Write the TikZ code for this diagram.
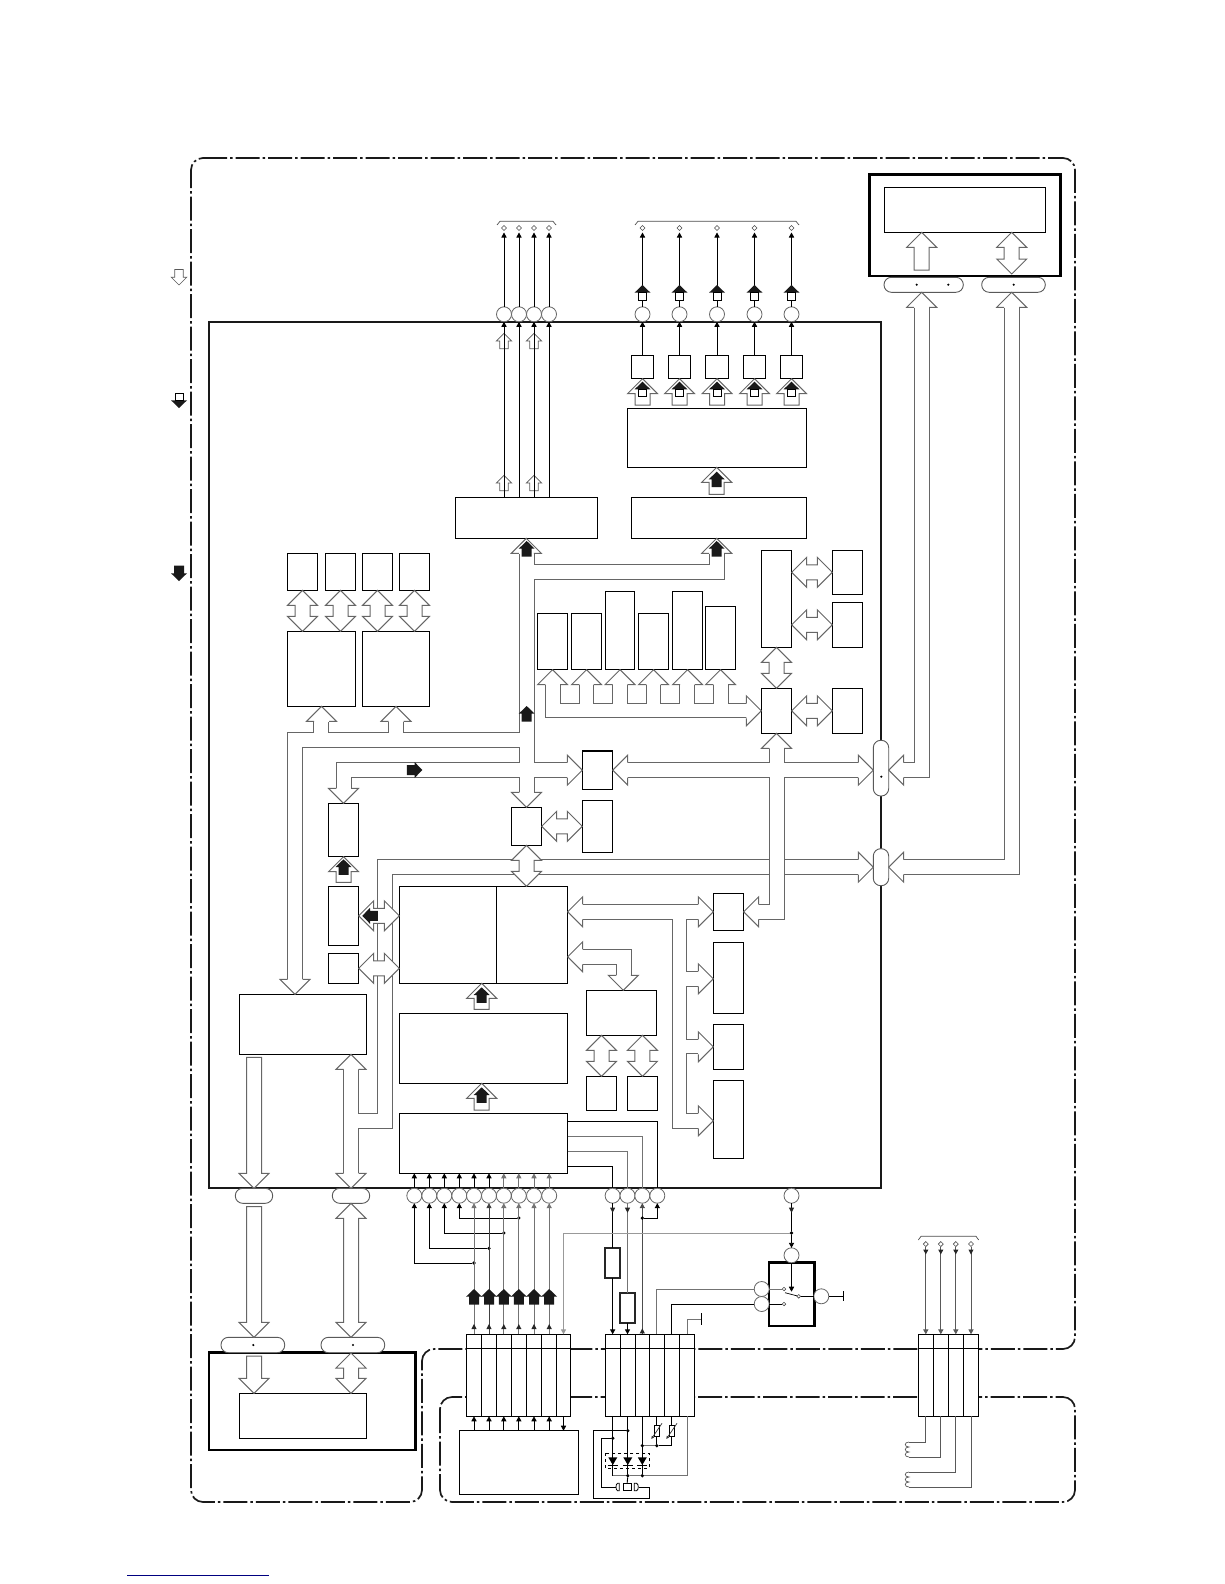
\documentclass[tikz,border=0pt]{standalone}
\usepackage{xcolor}
\usepackage{tikz}
\usetikzlibrary{shapes,arrows,positioning,calc,fit,arrows.meta}
\newcommand{\bussgl}[2]{%
  \coordinate (tl) at #1; \coordinate (tp) at #2;
  \coordinate (bs) at ($(tp)!15pt!(tl)$);
  \draw[busline,fill=white] ($(tl)!7.5pt!90:(tp)$) -- ($(bs)!7.5pt!90:(tp)$) -- ($(bs)!15pt!90:(tp)$) -- (tp)
    -- ($(bs)!15pt!-90:(tp)$) -- ($(bs)!7.5pt!-90:(tp)$) -- ($(tl)!7.5pt!-90:(tp)$) -- cycle;}
\newcommand{\busdbl}[2]{%
  \coordinate (tl) at #1; \coordinate (tp) at #2;
  \coordinate (bs) at ($(tp)!15pt!(tl)$); \coordinate (bt) at ($(tl)!15pt!(tp)$);
  \draw[busline,fill=white] (tl) -- ($(bt)!15pt!90:(tp)$) -- ($(bt)!7.5pt!90:(tp)$) -- ($(bs)!7.5pt!90:(tp)$) -- ($(bs)!15pt!90:(tp)$) -- (tp)
    -- ($(bs)!15pt!-90:(tp)$) -- ($(bs)!7.5pt!-90:(tp)$) -- ($(bt)!7.5pt!-90:(tp)$) -- ($(bt)!15pt!-90:(tp)$) -- cycle;}
\newcommand{\bushead}[2]{%
  \fill[white,shift={#1},rotate=#2] (0,0) -- (15,15) -- (-15,15) -- cycle;
  \draw[busline,shift={#1},rotate=#2] (7.5,15) -- (15,15) -- (0,0) -- (-15,15) -- (-7.5,15);}
\newcommand{\blackup}[2]{%
  \fill[black!90,shift={#1},rotate=#2] (0,0) -- (8,7.7) -- (5,7.7) -- (5,15.5) -- (-5,15.5) -- (-5,7.7) -- (-8,7.7) -- cycle;}
\newcommand{\blackhat}[2]{%
  \fill[black!90,shift={#1},rotate=#2] (0,0) -- (8,7.7) -- (-8,7.7) -- cycle;
  \draw[black,line width=0.8pt,fill=white,shift={#1},rotate=#2] (-4,7.7) rectangle (4,15);}
\newcommand{\smallup}[2]{%
  \draw[black!65,line width=0.7pt,shift={#1},rotate=#2] (0,0) -- (7.7,7.7) -- (4.3,7.7) -- (4.3,15.5) -- (-4.3,15.5) -- (-4.3,7.7) -- (-7.7,7.7) -- cycle;}
\newcommand{\pintip}[2]{%
  \fill[black!85,shift={#1},rotate=#2] (0,0) -- (2.6,5) -- (-2.6,5) -- cycle;}
\newcommand{\diode}[1]{%
  \fill[black,shift={#1}] (-4.5,0) -- (4.5,0) -- (0,7.7) -- cycle;
  \draw[black,line width=0.9pt,shift={#1}] (-5,7.7) -- (5,7.7);}
\newcommand{\coil}[1]{%
  \draw[black!65,line width=0.7pt,shift={#1}] (0,0) .. controls (-5,0) and (-5,5) .. (0,5) .. controls (-5,5) and (-5,10) .. (0,10) .. controls (-5,10) and (-5,15) .. (0,15);}

\begin{document}
\begin{tikzpicture}[x=1pt,y=-1pt,
  blk/.style={draw=black,line width=1.1pt,fill=white,inner sep=0pt,outer sep=0pt},
  thickblk/.style={draw=black,line width=2.8pt,inner sep=0pt,outer sep=0pt},
  fuseblk/.style={draw=black!85,line width=2.2pt,fill=white,inner sep=0pt,outer sep=0pt},
  pill/.style={draw=black!65,line width=0.9pt,fill=white,rounded corners=7.4pt,inner sep=0pt,outer sep=0pt},
  pin/.style={circle,draw=black!60,line width=0.8pt,fill=white,minimum size=15pt,inner sep=0pt,outer sep=0pt},
  term/.style={diamond,draw=black!70,line width=0.6pt,fill=white,minimum size=5pt,inner sep=0pt,outer sep=0pt},
  contact/.style={circle,draw=black!70,line width=0.6pt,fill=white,minimum size=3.6pt,inner sep=0pt,outer sep=0pt},
  jct/.style={circle,fill=black,minimum size=3.6pt,inner sep=0pt,outer sep=0pt},
  bdot/.style={circle,fill=black,minimum size=2.4pt,inner sep=0pt,outer sep=0pt},
  busline/.style={draw=black!60,line width=1pt},
  bracket/.style={black!70,line width=0.7pt},
  frameline/.style={black!90,line width=1.7pt,rounded corners=12pt,dash pattern=on 24pt off 3pt on 2.5pt off 3pt},
  wire/.style={black,line width=0.9pt},
  wiregray/.style={black!55,line width=0.9pt},
  sig/.style={wire,-{Triangle[length=5pt,width=5.2pt]}},
  siggray/.style={wiregray,-{Triangle[length=5pt,width=5.2pt]}}]
\useasboundingbox (0,0) rectangle (1224,1584);

% Outer frames
\draw[frameline] (191,158) -- (1075,158) -- (1075,1349) -- (422,1349) -- (422,1502) -- (191,1502) -- cycle;
\draw[frameline] (440,1397) rectangle (1075,1502);
\draw[black!90,line width=2.2pt] (209,322) rectangle (881,1188);

% Legend
\smallup{(179,285)}{180}
\blackhat{(179,408)}{180}
\blackup{(179,581)}{180}
\draw[blue!50!black,line width=1.2pt] (127,1575.3) -- (269,1575.3);

% Display module, top right
\node[thickblk,fit={(869.7,174.7) (1060.3,276)}] (dispFrame) {};
\node[blk,fit={(884.3,187.3) (1045.7,232.3)}] (disp) {};
\node[pill,fit={(884,277.3) (963.3,292.3)}] (conA) {};
\node[pill,fit={(981.7,277.3) (1045.3,292.3)}] (conB) {};
\node[bdot] (conAdotL) at (916.7,284.7) {};
\node[bdot] (conAdotR) at (948.3,284.7) {};
\node[bdot] (conBdot) at (1013.7,284.7) {};

% Recorder module, bottom left
\node[thickblk,fit={(209,1352.7) (415.3,1450)}] (recFrame) {};
\node[blk,fit={(239.3,1393.3) (366.7,1438.3)}] (rec) {};
\node[pill,fit={(221,1337.3) (284.7,1352.7)}] (conG) {};
\node[pill,fit={(321,1337.3) (384.7,1352.7)}] (conH) {};
\node[bdot] (conGdot) at (253.3,1345) {};
\node[bdot] (conHdot) at (353,1345) {};

% Pills on the main board edge
\node[pill,fit={(873.3,740.3) (888.7,796)}] (conC) {};
\node[pill,fit={(873.3,848.7) (888.7,885.7)}] (conD) {};
\node[pill,fit={(235.3,1188.3) (272.7,1203.3)}] (conE) {};
\node[pill,fit={(332.3,1188.3) (369.7,1203.3)}] (conF) {};
\node[bdot] (conCdot) at (881.3,776.7) {};

% Blocks, top of board
\node[blk,fit={(455.3,497.3) (597.3,538.3)}] (enc) {};
\node[blk,fit={(631.3,497.3) (806.7,538.3)}] (scal) {};
\node[blk,fit={(627.3,408.3) (806.7,467.3)}] (dac) {};
\node[blk,fit={(631.3,355.3) (653.7,378.7)}] (drvA) {};
\node[blk,fit={(668.3,355.3) (690.7,378.7)}] (drvB) {};
\node[blk,fit={(705.3,355.3) (728.7,378.7)}] (drvC) {};
\node[blk,fit={(743.3,355.3) (765.7,378.7)}] (drvD) {};
\node[blk,fit={(780.3,355.3) (802.7,378.7)}] (drvE) {};

% Memories, left
\node[blk,fit={(287.3,553.3) (317.7,590.3)}] (chipA) {};
\node[blk,fit={(325.3,553.3) (355.7,590.3)}] (chipB) {};
\node[blk,fit={(362.3,553.3) (392.7,590.3)}] (chipC) {};
\node[blk,fit={(399.3,553.3) (429.7,590.3)}] (chipD) {};
\node[blk,fit={(287.3,631.3) (355.7,706.3)}] (memA) {};
\node[blk,fit={(362.3,631.3) (429.7,706.3)}] (memB) {};

% Row of six and the right column
\node[blk,fit={(537.3,613.3) (567.7,669.7)}] (rowA) {};
\node[blk,fit={(571.3,613.3) (601.7,669.7)}] (rowB) {};
\node[blk,fit={(605.3,591.3) (634.7,669.7)}] (rowC) {};
\node[blk,fit={(638.3,613.3) (668.7,669.7)}] (rowD) {};
\node[blk,fit={(672.3,591.3) (702.7,669.7)}] (rowE) {};
\node[blk,fit={(705.3,606.3) (735.7,669.7)}] (rowF) {};
\node[blk,fit={(761.3,550.3) (791.7,647.3)}] (tall) {};
\node[blk,fit={(761.3,688.3) (791.7,733.3)}] (hubB) {};
\node[blk,fit={(832.3,550.3) (862.7,594.3)}] (sideA) {};
\node[blk,fit={(832.3,602.3) (862.7,647.3)}] (sideB) {};
\node[blk,fit={(832.3,688.3) (862.7,733.3)}] (sideC) {};

% Middle of board
\node[blk,fit={(582.3,751) (612.7,789.3)}] (ctl) {};
\node[blk,fit={(582.3,800.3) (612.7,852.7)}] (stor) {};
\node[blk,fit={(511.3,807.3) (541.7,845.3)}] (hub) {};
\node[blk,fit={(328.3,803.3) (358.7,856.7)}] (bufA) {};
\node[blk,fit={(328.3,886.3) (358.7,945.3)}] (bufB) {};
\node[blk,fit={(328.3,953.3) (358.7,983.3)}] (bufC) {};
\node[blk,fit={(399.3,886.3) (496.3,983.3)}] (ramA) {};
\node[blk,fit={(496.3,886.3) (567.7,983.3)}] (ramB) {};
\node[blk,fit={(399.3,1013.3) (567.7,1083.3)}] (proc) {};
\node[blk,fit={(399.3,1113.3) (567.7,1173.3)}] (inpt) {};
\node[blk,fit={(239.3,994.3) (366.3,1054.3)}] (dsp) {};
\node[blk,fit={(713.3,893.3) (743.7,930.3)}] (regA) {};
\node[blk,fit={(713.3,942.3) (743.7,1013.3)}] (regB) {};
\node[blk,fit={(713.3,1024.3) (743.7,1069.3)}] (regC) {};
\node[blk,fit={(713.3,1080.3) (743.7,1158.3)}] (regD) {};
\node[blk,fit={(586.3,990.3) (656.7,1035.3)}] (flash) {};
\node[blk,fit={(586.3,1076.3) (616.7,1110.3)}] (flashA) {};
\node[blk,fit={(627.3,1076.3) (657.7,1110.3)}] (flashB) {};

% Bus outlines, left and top
\draw[busline] (519,553.7) -- (519,732.7) -- (287.3,732.7) -- (287.3,979.3);
\draw[busline] (313.7,732.7) -- (313.7,721.7);
\draw[busline] (328.3,732.7) -- (328.3,721.7);
\draw[busline] (388.3,732.7) -- (388.3,721.7);
\draw[busline] (403.3,732.7) -- (403.3,721.7);
\fill[white] (314.2,732.2) rectangle (327.8,733.2);
\fill[white] (388.8,732.2) rectangle (402.8,733.2);
\draw[busline] (302.3,979.3) -- (302.3,747.3) -- (519,747.3) -- (519,762.3) -- (336.7,762.3) -- (336.7,789);
\draw[busline] (351.3,789) -- (351.3,777.3) -- (519,777.3) -- (519,792.7);
\draw[busline] (534,553.7) -- (534,564.3) -- (709.3,564.3) -- (709.3,553.7);
\draw[busline] (724.3,553.7) -- (724.3,579.3) -- (534,579.3) -- (534,762.7) -- (567.3,762.7);
\draw[busline] (567.3,777.3) -- (534,777.3) -- (534,792.7);
% Bus outlines, right
\draw[busline] (627.7,762.7) -- (769.3,762.7) -- (769.3,747.3);
\draw[busline] (784,747.3) -- (784,762.7) -- (858.3,762.7);
\draw[busline] (627.7,777.3) -- (769.3,777.3) -- (769.3,904.3) -- (757.7,904.3);
\draw[busline] (858.3,777.3) -- (784,777.3) -- (784,919.3) -- (757.7,919.3);
\draw[busline] (903.3,762.7) -- (914.7,762.7) -- (914.7,307.7);
\draw[busline] (903.3,777.3) -- (929.3,777.3) -- (929.3,307.7);
\draw[busline] (903.3,859.3) -- (1004.3,859.3) -- (1004.3,307.7);
\draw[busline] (903.3,874.3) -- (1019.3,874.3) -- (1019.3,307.7);
% Long shared bus
\draw[busline] (358.7,1069) -- (358.7,1113.3) -- (377.3,1113.3) -- (377.3,859.3) -- (769.3,859.3);
\draw[busline] (784,859.3) -- (858.3,859.3);
\draw[busline] (358.7,1173.3) -- (358.7,1128.3) -- (392.3,1128.3) -- (392.3,874.3) -- (769.3,874.3);
\draw[busline] (784,874.3) -- (858.3,874.3);
\draw[busline] (343.7,1069) -- (343.7,1173.3);
% Register bus
\draw[busline] (582.7,904.3) -- (698.3,904.3);
\draw[busline] (582.7,919.3) -- (672,919.3) -- (672,1128.3) -- (698.3,1128.3);
\draw[busline] (698.3,919.3) -- (686.7,919.3) -- (686.7,971.3) -- (698.3,971.3);
\draw[busline] (698.3,986.3) -- (686.7,986.3) -- (686.7,1039) -- (698.3,1039);
\draw[busline] (698.3,1053.7) -- (686.7,1053.7) -- (686.7,1113.3) -- (698.3,1113.3);
\draw[busline] (582.7,949.3) -- (631,949.3) -- (631,975.7);
\draw[busline] (582.7,964.3) -- (616,964.3) -- (616,975.7);
% Row bus
\draw[busline] (545,684.3) -- (545,717.7) -- (747,717.7);
\draw[busline] (560.3,684.3) -- (560.3,703) -- (579,703) -- (579,684.3);
\draw[busline] (593.7,684.3) -- (593.7,703) -- (612.3,703) -- (612.3,684.3);
\draw[busline] (627,684.3) -- (627,703) -- (646,703) -- (646,684.3);
\draw[busline] (660.7,684.3) -- (660.7,703) -- (679.3,703) -- (679.3,684.3);
\draw[busline] (694.7,684.3) -- (694.7,703) -- (713.3,703) -- (713.3,684.3);
\draw[busline] (728,684.3) -- (728,703) -- (747,703);

% Bus arrow heads
\bushead{(memA.south)}{0}
\bushead{(memB.south)}{0}
\bushead{(295,0 |- dsp.north)}{180}
\bushead{(bufA.north)}{180}
\bushead{(hub.north)}{180}
\bushead{(enc.south)}{0}
\bushead{(716.7,0 |- scal.south)}{0}
\bushead{(ctl.west)}{-90}
\bushead{(ctl.east)}{90}
\bushead{(hubB.south)}{0}
\bushead{(hubB.west)}{-90}
\bushead{(rowA.south)}{0}
\bushead{(rowB.south)}{0}
\bushead{(rowC.south)}{0}
\bushead{(rowD.south)}{0}
\bushead{(rowE.south)}{0}
\bushead{(rowF.south)}{0}
\bushead{(conC.west |- ctl.east)}{-90}
\bushead{(conC.east |- ctl.east)}{90}
\bushead{(conD.west)}{-90}
\bushead{(conD.east)}{90}
\bushead{(921.7,0 |- conA.south)}{0}
\bushead{(1011.7,0 |- conB.south)}{0}
\bushead{(351,0 |- dsp.south)}{0}
\bushead{(conF.north)}{180}
\bushead{(ramB.east |- regA.west)}{90}
\bushead{(ramB.east |- 0,956.8)}{90}
\bushead{(623.3,0 |- flash.north)}{180}
\bushead{(regA.west)}{-90}
\bushead{(regA.east)}{90}
\bushead{(regB.west |- 0,978.8)}{-90}
\bushead{(regC.west)}{-90}
\bushead{(regD.west |- 0,1120.8)}{-90}

% Straight bus arrows
\busdbl{(chipA.south)}{(chipA.south |- memA.north)}
\busdbl{(chipB.south)}{(chipB.south |- memA.north)}
\busdbl{(chipC.south)}{(chipC.south |- memB.north)}
\busdbl{(chipD.south)}{(chipD.south |- memB.north)}
\busdbl{(tall.south)}{(hubB.north)}
\busdbl{(tall.east |- sideA.west)}{(sideA.west)}
\busdbl{(tall.east |- sideB.west)}{(sideB.west)}
\busdbl{(hubB.east)}{(sideC.west)}
\busdbl{(hub.east)}{(hub.east -| stor.west)}
\busdbl{(hub.south)}{(hub.south |- ramB.north)}
\busdbl{(bufB.east)}{(bufB.east -| ramA.west)}
\busdbl{(bufC.east)}{(bufC.east -| ramA.west)}
\busdbl{(601.5,0 |- flash.south)}{(flashA.north)}
\busdbl{(642.4,0 |- flash.south)}{(flashB.north)}
\bussgl{(bufA.south |- 0,882.3)}{(bufA.south)}
\bussgl{(481.7,1009.3)}{(481.7,0 |- ramA.south)}
\bussgl{(481.7,1110)}{(481.7,0 |- proc.south)}
\bussgl{(716.7,494.3)}{(716.7,0 |- dac.south)}
\bussgl{(254,1057.3)}{(conE.north)}
\bussgl{(254,1206.7)}{(254,0 |- conG.north)}
\busdbl{(conF.south)}{(351,0 |- conH.north)}
\bussgl{(254,1356)}{(254,0 |- rec.north)}
\busdbl{(351,1353)}{(351,0 |- rec.north)}
\bussgl{(921.7,270)}{(921.7,0 |- disp.south)}
\busdbl{(1011.7,274)}{(1011.7,0 |- disp.south)}

% Black markers on the buses
\blackup{(526.7,541)}{0}
\blackup{(716.7,541)}{0}
\blackup{(526.7,706)}{0}
\blackup{(422.3,770)}{-90}
\blackup{(343.5,859.3)}{0}
\blackup{(362.3,915.8)}{90}
\blackup{(481.7,987.3)}{0}
\blackup{(481.7,1087.3)}{0}
\blackup{(716.7,471.7)}{0}

% Video outputs, four pins
\node[pin] (vidA) at (504,314.3) {};
\node[pin] (vidB) at (519,314.3) {};
\node[pin] (vidC) at (534,314.3) {};
\node[pin] (vidD) at (549,314.3) {};
\node[term] (vidAout) at (504,228) {};
\node[term] (vidBout) at (519,228) {};
\node[term] (vidCout) at (534,228) {};
\node[term] (vidDout) at (549,228) {};
\smallup{(504,333.3)}{0}
\smallup{(534,333.3)}{0}
\smallup{(504,475.3)}{0}
\smallup{(534,475.3)}{0}
\draw[sig] (vidA |- enc.north) -- (vidA.south);
\draw[sig] (vidB |- enc.north) -- (vidB.south);
\draw[sig] (vidC |- enc.north) -- (vidC.south);
\draw[sig] (vidD |- enc.north) -- (vidD.south);
\draw[sig,shorten >=2pt] (vidA.north) -- (vidAout.south);
\draw[sig,shorten >=2pt] (vidB.north) -- (vidBout.south);
\draw[sig,shorten >=2pt] (vidC.north) -- (vidCout.south);
\draw[sig,shorten >=2pt] (vidD.north) -- (vidDout.south);
\draw[bracket] (497,225) -- (500,221.3) -- (553,221.3) -- (556,225);

% Analog outputs, five pins
\node[pin] (outA) at (642.5,314.3) {};
\node[pin] (outB) at (679.5,314.3) {};
\node[pin] (outC) at (717,314.3) {};
\node[pin] (outD) at (754.5,314.3) {};
\node[pin] (outE) at (791.5,314.3) {};
\node[term] (outAend) at (642.5,228) {};
\node[term] (outBend) at (679.5,228) {};
\node[term] (outCend) at (717,228) {};
\node[term] (outDend) at (754.5,228) {};
\node[term] (outEend) at (791.5,228) {};
\draw[sig] (drvA.north) -- (outA.south);
\draw[sig] (drvB.north) -- (outB.south);
\draw[sig] (drvC.north) -- (outC.south);
\draw[sig] (drvD.north) -- (outD.south);
\draw[sig] (drvE.north) -- (outE.south);
\draw[sig,shorten >=2pt] (outA.north) -- (outAend.south);
\draw[sig,shorten >=2pt] (outB.north) -- (outBend.south);
\draw[sig,shorten >=2pt] (outC.north) -- (outCend.south);
\draw[sig,shorten >=2pt] (outD.north) -- (outDend.south);
\draw[sig,shorten >=2pt] (outE.north) -- (outEend.south);
\blackhat{(642.5,285)}{0}
\blackhat{(679.5,285)}{0}
\blackhat{(717,285)}{0}
\blackhat{(754.5,285)}{0}
\blackhat{(791.5,285)}{0}
\bussgl{(642.5,405)}{(drvA.south)}
\bussgl{(679.5,405)}{(drvB.south)}
\bussgl{(717,405)}{(drvC.south)}
\bussgl{(754.5,405)}{(drvD.south)}
\bussgl{(791.5,405)}{(drvE.south)}
\blackhat{(642.5,381.7)}{0}
\blackhat{(679.5,381.7)}{0}
\blackhat{(717,381.7)}{0}
\blackhat{(754.5,381.7)}{0}
\blackhat{(791.5,381.7)}{0}
\draw[bracket] (635,225) -- (638,221.3) -- (796,221.3) -- (799,225);

% Connectors along the lower edge
\node[blk,fit={(466.3,1334.3) (481.7,1416.3)}] (cnA) {};
\node[blk,fit={(481.7,1334.3) (496.3,1416.3)}] (cnB) {};
\node[blk,fit={(496.3,1334.3) (511.3,1416.3)}] (cnC) {};
\node[blk,fit={(511.3,1334.3) (526.3,1416.3)}] (cnD) {};
\node[blk,fit={(526.3,1334.3) (541.7,1416.3)}] (cnE) {};
\node[blk,fit={(541.7,1334.3) (556.7,1416.3)}] (cnF) {};
\node[blk,fit={(556.7,1334.3) (570.3,1416.3)}] (cnG) {};
\node[blk,fit={(605.3,1334.3) (620.3,1416.3)}] (cpA) {};
\node[blk,fit={(620.3,1334.3) (635.3,1416.3)}] (cpB) {};
\node[blk,fit={(635.3,1334.3) (649.3,1416.3)}] (cpC) {};
\node[blk,fit={(649.3,1334.3) (664.3,1416.3)}] (cpD) {};
\node[blk,fit={(664.3,1334.3) (679.3,1416.3)}] (cpE) {};
\node[blk,fit={(679.3,1334.3) (694.7,1416.3)}] (cpF) {};
\node[blk,fit={(918.3,1334.3) (933.3,1416.3)}] (cmA) {};
\node[blk,fit={(933.3,1334.3) (948.3,1416.3)}] (cmB) {};
\node[blk,fit={(948.3,1334.3) (963.3,1416.3)}] (cmC) {};
\node[blk,fit={(963.3,1334.3) (978.7,1416.3)}] (cmD) {};
\draw[wire,line width=1.1pt] (cnA.west |- 0,1348.7) -- (cnG.east |- 0,1348.7);
\draw[wire,line width=1.1pt] (cpA.west |- 0,1348.7) -- (cpF.east |- 0,1348.7);
\draw[wire,line width=1.1pt] (cmA.west |- 0,1348.7) -- (cmD.east |- 0,1348.7);

% Input pins
\node[pin] (pinA) at (414.3,1195.7) {};
\node[pin] (pinB) at (429.3,1195.7) {};
\node[pin] (pinC) at (444.3,1195.7) {};
\node[pin] (pinD) at (459.3,1195.7) {};
\node[pin] (pinE) at (474,1195.7) {};
\node[pin] (pinF) at (489,1195.7) {};
\node[pin] (pinG) at (503.8,1195.7) {};
\node[pin] (pinH) at (518.8,1195.7) {};
\node[pin] (pinI) at (534,1195.7) {};
\node[pin] (pinK) at (549.2,1195.7) {};
\draw[sig] (pinA.north) -- (pinA.north |- inpt.south);
\draw[sig] (pinB.north) -- (pinB.north |- inpt.south);
\draw[sig] (pinC.north) -- (pinC.north |- inpt.south);
\draw[sig] (pinD.north) -- (pinD.north |- inpt.south);
\draw[sig] (pinE.north) -- (pinE.north |- inpt.south);
\draw[sig] (pinF.north) -- (pinF.north |- inpt.south);
\draw[siggray] (pinG.north) -- (pinG.north |- inpt.south);
\draw[siggray] (pinH.north) -- (pinH.north |- inpt.south);
\draw[siggray] (pinI.north) -- (pinI.north |- inpt.south);
\draw[siggray] (pinK.north) -- (pinK.north |- inpt.south);
\node[jct] (jctA) at (474,1263) {};
\node[jct] (jctB) at (489,1248.3) {};
\node[jct] (jctC) at (503.8,1233) {};
\node[jct] (jctD) at (518.8,1218) {};
\draw[sig] (jctA) -| (pinA.south);
\draw[sig] (jctB) -| (pinB.south);
\draw[sig] (jctC) -| (pinC.south);
\draw[sig] (jctD) -| (pinD.south);
\draw[siggray] (cnA.north) -- (pinE.south);
\draw[sig,black!75] (cnB.north) -- (pinF.south);
\draw[siggray] (cnC.north) -- (pinG.south);
\draw[siggray] (cnD.north) -- (pinH.south);
\draw[siggray] (cnE.north) -- (pinI.south);
\draw[siggray] (cnF.north) -- (pinK.south);
\blackup{(474,1289)}{0}
\blackup{(489,1289)}{0}
\blackup{(503.8,1289)}{0}
\blackup{(518.8,1289)}{0}
\blackup{(534,1289)}{0}
\blackup{(549.2,1289)}{0}
\pintip{(474,1324)}{0}
\pintip{(489,1324)}{0}
\pintip{(503.8,1324)}{0}
\pintip{(518.8,1324)}{0}
\pintip{(534,1324)}{0}
\pintip{(549.2,1324)}{0}

% Servo block below first connector
\node[blk,line width=1.1pt,fit={(459.3,1430.7) (578.3,1494.3)}] (srv) {};
\draw[sig] (cnA.south |- srv.north) -- (cnA.south);
\draw[sig] (cnB.south |- srv.north) -- (cnB.south);
\draw[sig] (cnC.south |- srv.north) -- (cnC.south);
\draw[sig] (cnD.south |- srv.north) -- (cnD.south);
\draw[sig] (cnE.south |- srv.north) -- (cnE.south);
\draw[sig] (cnF.south |- srv.north) -- (cnF.south);
\draw[sig] (cnG.south) -- (cnG.south |- srv.north);

% Power pins and fuses
\node[pin] (pwrA) at (612.6,1195.7) {};
\node[pin] (pwrB) at (627.5,1195.7) {};
\node[pin] (pwrC) at (642.3,1195.7) {};
\node[pin] (pwrD) at (657.3,1195.7) {};
\node[pin] (swP) at (791.5,1195.7) {};
\draw[wire] (inpt.east |- 0,1121.7) -| (pwrD.north);
\draw[wiregray] (inpt.east |- 0,1136) -| (pwrC.north);
\draw[wiregray] (inpt.east |- 0,1151) -| (pwrB.north);
\draw[wire] (inpt.east |- 0,1166.3) -| (pwrA.north);
\node[fuseblk,fit={(605,1247.7) (620.3,1278.3)}] (fuseA) {};
\node[fuseblk,fit={(619.7,1293) (635.3,1323.3)}] (fuseB) {};
\draw[wire] (pwrA.south) -- (pwrA.south |- fuseA.north);
\draw[sig] (fuseA.south) -- (fuseA.south |- cpA.north);
\draw[wiregray] (pwrB.south) -- (pwrB.south |- fuseB.north);
\draw[sig] (fuseB.south) -- (fuseB.south |- cpB.north);
\draw[sig,black!70] (pwrC.south |- cpC.north) -- (pwrC.south);
\pintip{(pwrC.south |- 0,1328.3)}{0}
\node[jct] (jctF) at (642.3,1218) {};
\draw[sig] (jctF) -| (pwrD.south);
\pintip{(612.6,1212.7)}{180}
\pintip{(627.5,1212.7)}{180}

% Switch
\node[thickblk,fit={(769,1262.7) (814.7,1326)}] (swBox) {};
\node[pin] (swQ) at (791.5,1255.3) {};
\node[pin] (swL) at (761.7,1289) {};
\node[pin] (swM) at (761.7,1304) {};
\node[pin] (swR) at (821.3,1296.3) {};
\node[jct] (jctE) at (791.5,1233) {};
\coordinate (swT) at (791.5,1291.7);
\node[contact] (ctA) at (784,1289) {};
\node[contact] (ctB) at (784,1304) {};
\node[contact] (ctC) at (798.7,1296.3) {};
\coordinate (gndA) at (843.3,1296.3);
\coordinate (gndB) at (701.3,1319);
\draw[wire] (swP.south) -- (jctE);
\pintip{(791.5,1212.7)}{180}
\draw[sig] (jctE) -- (swQ.north);
\draw[sig] (swQ.south) -- (swT);
\draw[wiregray] (swL.east) -- (ctA);
\draw[wire] (swM.east) -- (ctB);
\draw[wire,line width=0.7pt] (785,1292.7) -- (ctC);
\draw[wire] (ctC) -- (swR.west);
\draw[wire] (swR.east) -- (gndA);
\draw[wire] ([yshift=5pt]gndA) -- ([yshift=-5pt]gndA);
\draw[wiregray] (swL.west) -| (cpD.north);
\draw[wire] (swM.west) -| (cpE.north);
\draw[wiregray] (cpF.north) |- (gndB);
\draw[wire] ([yshift=5.7pt]gndB) -- ([yshift=-5.7pt]gndB);
\draw[siggray,black!40] (jctE) -| (cnG.north);

% LEDs and sensors below second connector
\node[jct] (jctG) at (cpA.south |- 0,1438.3) {};
\node[jct] (jctH) at (cpB.south |- 0,1430.7) {};
\node[jct] (jctI) at (cpC.south |- 0,1445.7) {};
\node[jct] (jctJ) at (cpD.south |- 0,1445.7) {};
\node[jct] (jctK) at (cpB.south |- 0,1475.7) {};
\node[jct] (jctL) at (cpC.south |- 0,1475.7) {};
\node[blk,line width=0.8pt,fit={(623.3,1483.3) (631,1490.7)}] (xtal) {};
\coordinate (xtalL) at (616,1487);
\coordinate (xtalR) at (638.7,1487);
\draw[black,line width=0.8pt,dashed] (605.3,1453.3) rectangle (649.3,1468.3);
\draw[wire] (cpA.south) -- (cpA.south |- jctK);
\draw[wiregray] (cpA.south |- jctK) -- (jctK) -- (jctL) -- (cpF.south |- jctK) -- (cpF.south);
\draw[wire] (cpB.south) -- (jctK);
\draw[wire] (jctK) -- (xtal.north);
\draw[wire] (cpC.south) -- (jctL);
\draw[wire] (cpD.south) -- (jctJ);
\draw[wiregray] (jctI) -- (jctJ);
\draw[wire] (jctJ) -| (cpE.south);
\diode{(cpA.south |- 0,1457.3)}
\diode{(cpB.south |- 0,1457.3)}
\diode{(cpC.south |- 0,1457.3)}
\node[blk,line width=0.8pt,fit={(654.7,1425) (659.7,1436.3)}] (thermA) {};
\node[blk,line width=0.8pt,fit={(669.5,1425) (674.5,1436.3)}] (thermB) {};
\draw[black!80,line width=0.7pt,-{Triangle[length=3pt,width=2.6pt]}] (662,1423.3) -- (651.3,1439);
\draw[black!80,line width=0.7pt,-{Triangle[length=3pt,width=2.6pt]}] (677,1423.3) -- (666.3,1439);
\draw[wire] (jctG) -- (601.7,1438.3) |- (xtalL);
\draw[wire] (jctH) -- (593.3,1430.7) -- (593.3,1498.3) -- (649.3,1498.3) |- (xtalR);
\draw[wire,line width=0.8pt] (619.3,1483.3) -- (619.3,1490.7) -- (617.5,1490.7) .. controls (615.5,1490) and (615.5,1484) .. (617.5,1483.3) -- cycle;
\draw[wire,line width=0.8pt] (634.3,1483.3) -- (634.3,1490.7) -- (636.5,1490.7) .. controls (638.9,1490) and (638.9,1484) .. (636.5,1483.3) -- cycle;

% Third connector and coils
\node[term] (cmAend) at (925.8,1244) {};
\node[term] (cmBend) at (940.8,1244) {};
\node[term] (cmCend) at (955.8,1244) {};
\node[term] (cmDend) at (971,1244) {};
\draw[siggray,black!65] (cmAend.south) -- (cmAend.south |- cmA.north);
\draw[siggray,black!65] (cmBend.south) -- (cmBend.south |- cmB.north);
\draw[siggray,black!65] (cmCend.south) -- (cmCend.south |- cmC.north);
\draw[siggray,black!65] (cmDend.south) -- (cmDend.south |- cmD.north);
\pintip{(925.8,1254.5)}{180}
\pintip{(940.8,1254.5)}{180}
\pintip{(955.8,1254.5)}{180}
\pintip{(971,1254.5)}{180}
\draw[bracket] (918.3,1240) -- (921,1236.3) -- (976,1236.3) -- (978.7,1240);
\coordinate (coilA) at (909,1442);
\coordinate (coilB) at (909,1457);
\coordinate (coilC) at (909,1472);
\coordinate (coilD) at (909,1487);
\draw[wiregray,black!65,line width=0.7pt] (cmA.south) |- (coilA);
\draw[wiregray,black!65,line width=0.7pt] (cmB.south) |- (coilB);
\draw[wiregray,black!65,line width=0.7pt] (cmC.south) |- (coilC);
\draw[wiregray,black!65,line width=0.7pt] (cmD.south) |- (coilD);
\coil{(coilA)}
\coil{(coilC)}

\end{tikzpicture}
\end{document}
